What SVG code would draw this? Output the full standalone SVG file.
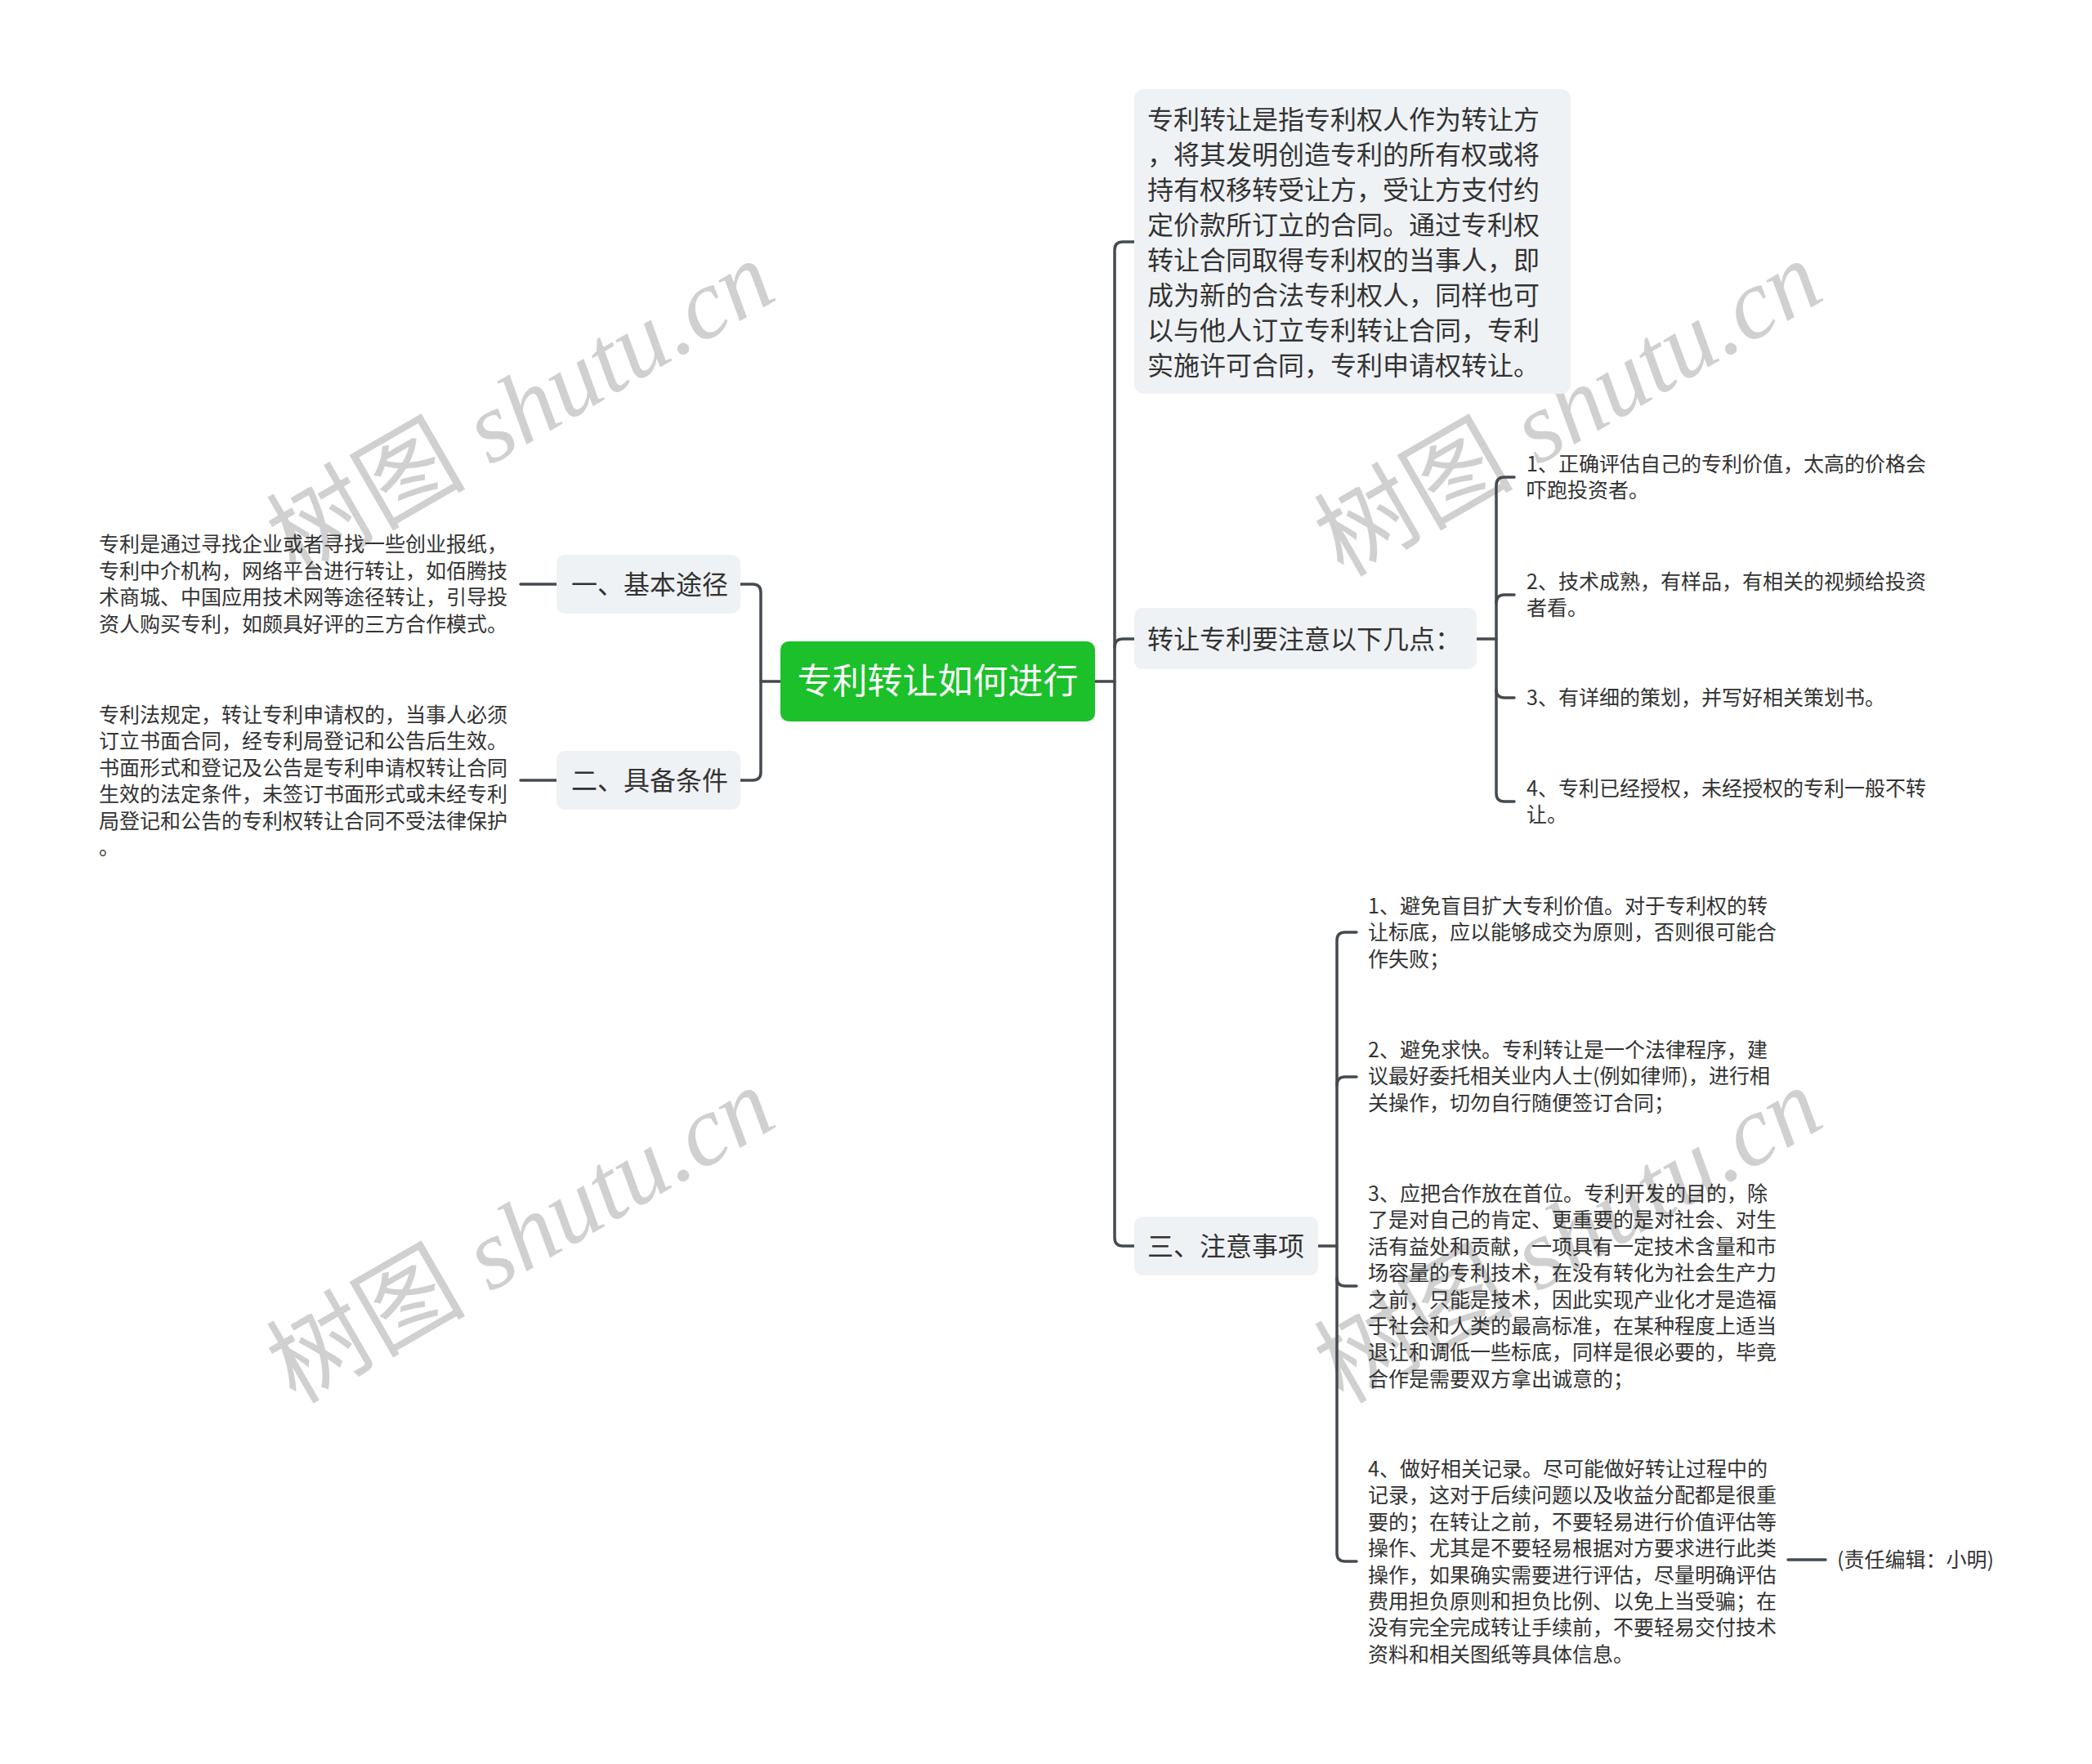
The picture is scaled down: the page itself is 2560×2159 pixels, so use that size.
<svg xmlns="http://www.w3.org/2000/svg" width="2560" height="2159" viewBox="0 0 2560 2159">
<style>
.bg{fill:#ffffff}
.nb{fill:#eff2f5}
.t{font-family:"Noto Sans CJK SC","Noto Sans",sans-serif;fill:#333333}
.s{font-size:25px}
.m{font-size:32px}
.wm{font-family:"Liberation Serif","Noto Sans CJK SC",serif;font-size:122px;fill:#d0d0d0}
.wc{font-family:"Noto Sans CJK SC",sans-serif;font-style:normal}
.c{fill:none;stroke:#444a4f;stroke-width:3.5;stroke-linecap:round;stroke-linejoin:round}
</style>
<rect class="bg" x="0" y="0" width="2560" height="2159"/>
<g id="watermarks">
<text class="wm" transform="translate(658,536) rotate(-30)" text-anchor="middle"><tspan class="wc">树图</tspan><tspan font-style="italic"> shutu.cn</tspan></text>
<text class="wm" transform="translate(1940,536) rotate(-30)" text-anchor="middle"><tspan class="wc">树图</tspan><tspan font-style="italic"> shutu.cn</tspan></text>
<text class="wm" transform="translate(658,1548) rotate(-30)" text-anchor="middle"><tspan class="wc">树图</tspan><tspan font-style="italic"> shutu.cn</tspan></text>
<text class="wm" transform="translate(1940,1548) rotate(-30)" text-anchor="middle"><tspan class="wc">树图</tspan><tspan font-style="italic"> shutu.cn</tspan></text>
</g>
<g id="connectors">
<path class="c" d="M955,834 H931"/>
<path class="c" d="M906,715 H921 Q931,715 931,725 V945 Q931,955 921,955 H906"/>
<path class="c" d="M637,715 H681"/>
<path class="c" d="M637,955 H681"/>
<path class="c" d="M1340,834 H1364"/>
<path class="c" d="M1388,296 H1374 Q1364,296 1364,306 V1515 Q1364,1525 1374,1525 H1388"/>
<path class="c" d="M1388,782 H1374 Q1364,782 1364,792"/>
<path class="c" d="M1807,782 H1831"/>
<path class="c" d="M1853,584 H1841 Q1831,584 1831,594 V971 Q1831,981 1841,981 H1853"/>
<path class="c" d="M1853,728 H1841 Q1831,728 1831,738"/>
<path class="c" d="M1831,844 Q1831,854 1841,854 H1853"/>
<path class="c" d="M1613,1525 H1636"/>
<path class="c" d="M1660,1141 H1646 Q1636,1141 1636,1151 V1901 Q1636,1911 1646,1911 H1660"/>
<path class="c" d="M1660,1318 H1646 Q1636,1318 1636,1328"/>
<path class="c" d="M1636,1564 Q1636,1574 1646,1574 H1660"/>
<path class="c" d="M2188,1909 H2234"/>
</g>
<g id="root">
<rect x="955" y="785" width="385" height="98" rx="10" fill="#1bc02a"/>
<text x="1147.5" y="849" text-anchor="middle" font-family="Noto Sans CJK SC, sans-serif" font-size="43" fill="#ffffff">专利转让如何进行</text>
</g>
<g id="n-basic">
<rect class="nb" x="681" y="679" width="225" height="72" rx="10"/>
<text class="t m" x="699" y="727">一、基本途径</text>
</g>
<g id="n-basic-detail">
<text class="t s"><tspan x="121" y="675">专利是通过寻找企业或者寻找一些创业报纸，</tspan><tspan x="121" y="707.5">专利中介机构，网络平台进行转让，如佰腾技</tspan><tspan x="121" y="740">术商城、中国应用技术网等途径转让，引导投</tspan><tspan x="121" y="772.5">资人购买专利，如颇具好评的三方合作模式。</tspan></text>
</g>
<g id="n-cond">
<rect class="nb" x="681" y="919" width="225" height="72" rx="10"/>
<text class="t m" x="699" y="967">二、具备条件</text>
</g>
<g id="n-cond-detail">
<text class="t s"><tspan x="121" y="884">专利法规定，转让专利申请权的，当事人必须</tspan><tspan x="121" y="916.4">订立书面合同，经专利局登记和公告后生效。</tspan><tspan x="121" y="948.8">书面形式和登记及公告是专利申请权转让合同</tspan><tspan x="121" y="981.2">生效的法定条件，未签订书面形式或未经专利</tspan><tspan x="121" y="1013.6">局登记和公告的专利权转让合同不受法律保护</tspan><tspan x="121" y="1046">。</tspan></text>
</g>
<g id="n-def">
<rect class="nb" x="1388" y="109" width="534" height="373" rx="12"/>
<text class="t m"><tspan x="1404" y="158">专利转让是指专利权人作为转让方</tspan><tspan x="1404" y="201">，将其发明创造专利的所有权或将</tspan><tspan x="1404" y="244">持有权移转受让方，受让方支付约</tspan><tspan x="1404" y="287">定价款所订立的合同。通过专利权</tspan><tspan x="1404" y="330">转让合同取得专利权的当事人，即</tspan><tspan x="1404" y="373">成为新的合法专利权人，同样也可</tspan><tspan x="1404" y="416">以与他人订立专利转让合同，专利</tspan><tspan x="1404" y="459">实施许可合同，专利申请权转让。</tspan></text>
</g>
<g id="n-points">
<rect class="nb" x="1388" y="744" width="419" height="75" rx="10"/>
<text class="t m" x="1404" y="794">转让专利要注意以下几点：</text>
</g>
<g id="n-points-1">
<text class="t s"><tspan x="1868" y="577">1、正确评估自己的专利价值，太高的价格会</tspan><tspan x="1868" y="609">吓跑投资者。</tspan></text>
</g>
<g id="n-points-2">
<text class="t s"><tspan x="1868" y="721">2、技术成熟，有样品，有相关的视频给投资</tspan><tspan x="1868" y="753">者看。</tspan></text>
</g>
<g id="n-points-3">
<text class="t s" x="1868" y="863">3、有详细的策划，并写好相关策划书。</text>
</g>
<g id="n-points-4">
<text class="t s"><tspan x="1868" y="974">4、专利已经授权，未经授权的专利一般不转</tspan><tspan x="1868" y="1006">让。</tspan></text>
</g>
<g id="n-notes">
<rect class="nb" x="1388" y="1489" width="225" height="72" rx="10"/>
<text class="t m" x="1404" y="1537">三、注意事项</text>
</g>
<g id="n-notes-1">
<text class="t s"><tspan x="1674" y="1118">1、避免盲目扩大专利价值。对于专利权的转</tspan><tspan x="1674" y="1150.4">让标底，应以能够成交为原则，否则很可能合</tspan><tspan x="1674" y="1182.8">作失败；</tspan></text>
</g>
<g id="n-notes-2">
<text class="t s"><tspan x="1674" y="1294">2、避免求快。专利转让是一个法律程序，建</tspan><tspan x="1674" y="1326.4">议最好委托相关业内人士(例如律师)，进行相</tspan><tspan x="1674" y="1358.8">关操作，切勿自行随便签订合同；</tspan></text>
</g>
<g id="n-notes-3">
<text class="t s"><tspan x="1674" y="1470">3、应把合作放在首位。专利开发的目的，除</tspan><tspan x="1674" y="1502.4">了是对自己的肯定、更重要的是对社会、对生</tspan><tspan x="1674" y="1534.8">活有益处和贡献，一项具有一定技术含量和市</tspan><tspan x="1674" y="1567.2">场容量的专利技术，在没有转化为社会生产力</tspan><tspan x="1674" y="1599.6">之前，只能是技术，因此实现产业化才是造福</tspan><tspan x="1674" y="1632">于社会和人类的最高标准，在某种程度上适当</tspan><tspan x="1674" y="1664.4">退让和调低一些标底，同样是很必要的，毕竟</tspan><tspan x="1674" y="1696.8">合作是需要双方拿出诚意的；</tspan></text>
</g>
<g id="n-notes-4">
<text class="t s"><tspan x="1674" y="1807">4、做好相关记录。尽可能做好转让过程中的</tspan><tspan x="1674" y="1839.4">记录，这对于后续问题以及收益分配都是很重</tspan><tspan x="1674" y="1871.8">要的；在转让之前，不要轻易进行价值评估等</tspan><tspan x="1674" y="1904.2">操作、尤其是不要轻易根据对方要求进行此类</tspan><tspan x="1674" y="1936.6">操作，如果确实需要进行评估，尽量明确评估</tspan><tspan x="1674" y="1969">费用担负原则和担负比例、以免上当受骗；在</tspan><tspan x="1674" y="2001.4">没有完全完成转让手续前，不要轻易交付技术</tspan><tspan x="1674" y="2033.8">资料和相关图纸等具体信息。</tspan></text>
</g>
<g id="n-editor">
<text class="t s" x="2248" y="1918">(责任编辑：小明)</text>
</g>
</svg>
